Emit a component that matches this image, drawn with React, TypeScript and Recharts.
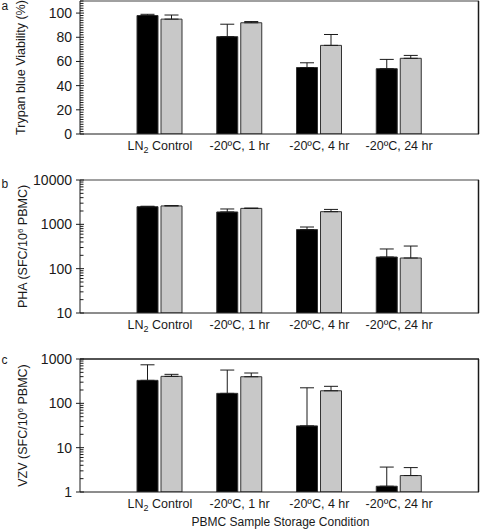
import React from 'react';
import { BarChart, Bar, XAxis, YAxis, ErrorBar, ReferenceLine } from 'recharts';

const CONDITIONS = ['LN2 Control', '-20ºC, 1 hr', '-20ºC, 4 hr', '-20ºC, 24 hr'];

// a: trypan blue viability (%)
const VIABILITY_DARK = [98, 80.5, 55, 54];
const VIABILITY_DARK_ERR = [1, 10.3, 3.9, 7.7];
const VIABILITY_LIGHT = [95, 92, 73.3, 62.6];
const VIABILITY_LIGHT_ERR = [3.4, 1, 9, 2.4];

// b: PHA (SFC/10^6 PBMC)
const PHA_DARK = [2500, 1900, 760, 183];
const PHA_DARK_ERR = [60, 320, 110, 95];
const PHA_LIGHT = [2600, 2290, 1930, 174];
const PHA_LIGHT_ERR = [50, 30, 240, 150];

// c: VZV (SFC/10^6 PBMC)
const VZV_DARK = [330, 168, 31, 1.35];
const VZV_DARK_ERR = [410, 395, 193, 2.3];
const VZV_LIGHT = [406, 398, 192, 2.35];
const VZV_LIGHT_ERR = [45, 85, 50, 1.2];

const VIABILITY_MAJOR = [0, 20, 40, 60, 80, 100];
const PHA_MAJOR = [10, 100, 1000, 10000];
const VZV_MAJOR = [1, 10, 100, 1000];

const FONT = '"Liberation Sans", Arial, sans-serif';
const WIDTH = 480;
const AXIS_X = 80;
const RIGHT_MARGIN = 1;
const INK = '#1a1a1a';

function linearTicks(max: number, step: number) {
  const out: number[] = [];
  for (let v = 0; v <= max; v += step) out.push(v);
  return out;
}

function logTicks(majors: number[]) {
  const out: number[] = [];
  majors.forEach((m, i) => {
    out.push(m);
    if (i < majors.length - 1) for (let k = 2; k <= 9; k++) out.push(m * k);
  });
  return out;
}

function makeRows(dark: number[], darkErr: number[], light: number[], lightErr: number[]) {
  return CONDITIONS.map((condition, i) => ({
    condition,
    dark: dark[i],
    darkErr: [0, darkErr[i]],
    light: light[i],
    lightErr: [0, lightErr[i]],
  }));
}

function YTick(props: any) {
  const { y, payload, majors } = props;
  const v = payload.value;
  const major = majors.includes(v);
  return (
    <g>
      <line x1={major ? AXIS_X - 4 : AXIS_X} x2={AXIS_X + (major ? 4 : 3.5)} y1={y} y2={y} stroke={INK} />
      {major && (
        <text x={AXIS_X - 8} y={y} dy="0.36em" textAnchor="end" fontSize={14} fill={INK} fontFamily={FONT}>
          {v}
        </text>
      )}
    </g>
  );
}

function XTick(props: any) {
  const { x, y, payload } = props;
  const v: string = payload.value;
  const sub = v.startsWith('LN2');
  return (
    <text x={x} y={y + 8} textAnchor="middle" fontSize={12.5} fill={INK} fontFamily={FONT}>
      {sub ? (
        <>
          <tspan>LN</tspan>
          <tspan dy={3} fontSize={9}>2</tspan>
          <tspan dy={-3}>{v.slice(3)}</tspan>
        </>
      ) : (
        v
      )}
    </text>
  );
}

function YTitle(props: any) {
  const { viewBox, title, cx, letter, letterY } = props;
  const cy = viewBox.y + viewBox.height / 2;
  return (
    <g fontFamily={FONT} fill={INK}>
      <text x={1.5} y={letterY} fontSize={12}>{letter}</text>
      <text x={cx} y={cy} dy="0.35em" textAnchor="middle" fontSize={12.5} transform={`rotate(-90, ${cx}, ${cy})`}>
        {title}
      </text>
    </g>
  );
}

function XTitle(props: any) {
  const { viewBox } = props;
  return (
    <text x={viewBox.x + viewBox.width / 2 + 1} y={viewBox.y + 34} textAnchor="middle" fontSize={12} fill={INK} fontFamily={FONT}>
      PBMC Sample Storage Condition
    </text>
  );
}

const superTitle = (head: string, tail: string) => (
  <>
    <tspan>{head}</tspan>
    <tspan dy={-4} fontSize={8}>6</tspan>
    <tspan dy={4}>{tail}</tspan>
  </>
);

interface PanelProps {
  top: number;
  height: number;
  marginTop: number;
  marginBottom: number;
  xAxisHeight: number;
  rows: any[];
  log: boolean;
  domain: [number, number];
  ticks: number[];
  majors: number[];
  title: React.ReactNode;
  titleX: number;
  letter: string;
  letterY: number;
  frameTop: string;
  xTitle?: boolean;
}

function Panel(p: PanelProps) {
  const right = WIDTH - RIGHT_MARGIN - 0.5;
  const bottom = p.height - p.marginBottom - p.xAxisHeight;
  return (
    <div style={{ position: 'absolute', left: 0, top: p.top, width: WIDTH, height: p.height }}>
      <BarChart
        width={WIDTH}
        height={p.height}
        data={p.rows}
        margin={{ top: p.marginTop, right: RIGHT_MARGIN, bottom: p.marginBottom, left: 0 }}
        barSize={21}
        barGap={3}
      >
        <XAxis
          dataKey="condition"
          height={p.xAxisHeight}
          padding={{ left: 40, right: 40 }}
          tickLine={false}
          axisLine={{ stroke: INK }}
          interval={0}
          tick={<XTick />}
          label={p.xTitle ? { content: (lp: any) => <XTitle {...lp} /> } : undefined}
        />
        <YAxis
          width={AXIS_X}
          scale={p.log ? 'log' : 'linear'}
          domain={p.domain}
          allowDataOverflow
          ticks={p.ticks}
          interval={0}
          tickLine={false}
          axisLine={{ stroke: INK }}
          tick={<YTick majors={p.majors} />}
          label={{
            content: (lp: any) => (
              <YTitle {...lp} title={p.title} cx={p.titleX} letter={p.letter} letterY={p.letterY} />
            ),
          }}
        />
        {/* top edge of the frame */}
        <ReferenceLine y={p.domain[1]} stroke={p.frameTop} strokeWidth={1.5} ifOverflow="visible" />
        <Bar dataKey="dark" fill="#000" stroke="#333" isAnimationActive={false}>
          <ErrorBar dataKey="darkErr" width={7} stroke={INK} strokeWidth={1} />
        </Bar>
        <Bar dataKey="light" fill="#c8c8c8" stroke="#333" isAnimationActive={false}>
          <ErrorBar dataKey="lightErr" width={7} stroke={INK} strokeWidth={1} />
        </Bar>
      </BarChart>
      {/* right edge of the frame */}
      <svg width={WIDTH} height={p.height} style={{ position: 'absolute', left: 0, top: 0, pointerEvents: 'none' }}>
        <line x1={right} x2={right} y1={p.marginTop} y2={bottom} stroke={INK} strokeWidth={1.5} />
      </svg>
    </div>
  );
}

export default function App() {
  return (
    <div style={{ position: 'absolute', left: 0, top: 0, width: WIDTH, height: 530, background: '#fff', fontFamily: FONT }}>
      <Panel
        top={0}
        height={170}
        marginTop={1}
        marginBottom={6}
        xAxisHeight={30}
        rows={makeRows(VIABILITY_DARK, VIABILITY_DARK_ERR, VIABILITY_LIGHT, VIABILITY_LIGHT_ERR)}
        log={false}
        domain={[0, 110]}
        ticks={linearTicks(110, 2)}
        majors={VIABILITY_MAJOR}
        title="Trypan blue Viability (%)"
        titleX={21}
        letter="a"
        letterY={9.5}
        frameTop="#808080"
      />
      <Panel
        top={170}
        height={175}
        marginTop={10}
        marginBottom={2}
        xAxisHeight={30}
        rows={makeRows(PHA_DARK, PHA_DARK_ERR, PHA_LIGHT, PHA_LIGHT_ERR)}
        log={true}
        domain={[10, 10000]}
        ticks={logTicks(PHA_MAJOR)}
        majors={PHA_MAJOR}
        title={superTitle('PHA (SFC/10', ' PBMC)')}
        titleX={23}
        letter="b"
        letterY={18.3}
        frameTop="#808080"
      />
      <Panel
        top={345}
        height={185}
        marginTop={14}
        marginBottom={0}
        xAxisHeight={38}
        rows={makeRows(VZV_DARK, VZV_DARK_ERR, VZV_LIGHT, VZV_LIGHT_ERR)}
        log={true}
        domain={[1, 1000]}
        ticks={logTicks(VZV_MAJOR)}
        majors={VZV_MAJOR}
        title={superTitle('VZV (SFC/10', '  PBMC)')}
        titleX={23}
        letter="c"
        letterY={19}
        frameTop={INK}
        xTitle
      />
    </div>
  );
}
